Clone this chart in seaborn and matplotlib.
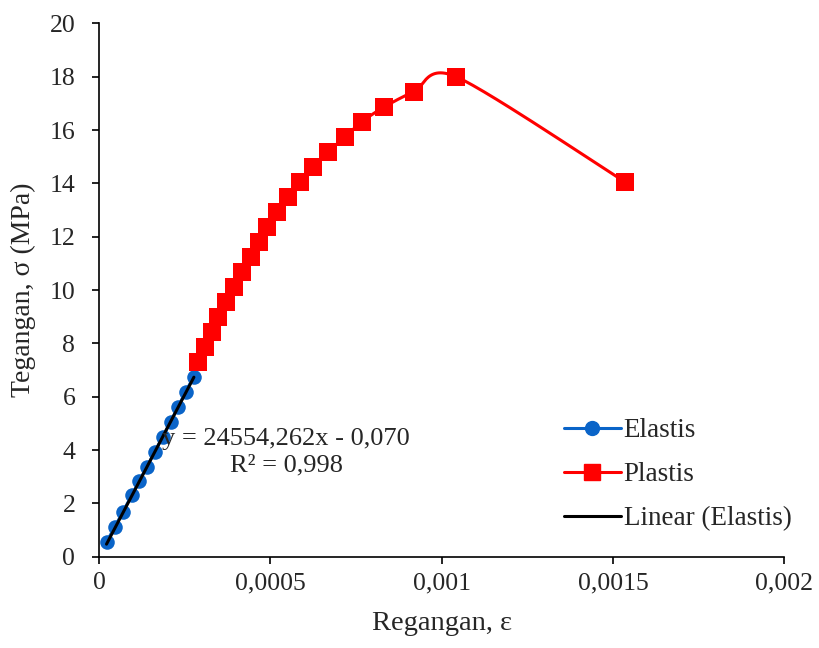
import numpy as np
import matplotlib
matplotlib.use('Agg')
import matplotlib.pyplot as plt
from matplotlib.lines import Line2D
from matplotlib.ticker import FuncFormatter, MultipleLocator
import seaborn as sns

# elastic region (strain, stress MPa)
elastis_x = [2.2e-5, 4.6e-5, 7.0e-5, 9.5e-5, 1.17e-4, 1.40e-4, 1.63e-4, 1.86e-4,
             2.09e-4, 2.31e-4, 2.53e-4, 2.77e-4]
elastis_y = [0.55, 1.11, 1.69, 2.30, 2.82, 3.37, 3.94, 4.50, 5.06, 5.62, 6.19, 6.75]

# plastic region
plastis_x = [2.90e-4, 3.09e-4, 3.31e-4, 3.48e-4, 3.70e-4, 3.94e-4, 4.17e-4, 4.43e-4,
             4.66e-4, 4.90e-4, 5.20e-4, 5.51e-4, 5.88e-4, 6.25e-4, 6.69e-4, 7.19e-4,
             7.67e-4, 8.33e-4, 9.20e-4, 1.042e-3, 1.535e-3]
plastis_y = [7.30, 7.87, 8.44, 9.00, 9.56, 10.12, 10.69, 11.25, 11.81, 12.37, 12.94,
             13.50, 14.06, 14.62, 15.19, 15.75, 16.31, 16.87, 17.44, 18.00, 14.05]

# trendline from Excel
slope = 24554.262
intercept = -0.070
r2 = 0.998

blue = '#0a64c8'
red = '#ff0000'


def smooth(xs, ys, n=30, k=7):
    # excel style smoothed line (catmull-rom type bezier)
    p = np.column_stack([xs, ys])
    p = np.vstack([p[0], p, p[-1]])
    out = []
    t = np.linspace(0, 1, n)[:, None]
    for i in range(1, len(p) - 2):
        p0, p1, p2, p3 = p[i - 1], p[i], p[i + 1], p[i + 2]
        c1 = p1 + (p2 - p0) / k
        c2 = p2 - (p3 - p1) / k
        seg = (1 - t) ** 3 * p1 + 3 * (1 - t) ** 2 * t * c1 + 3 * (1 - t) * t ** 2 * c2 + t ** 3 * p2
        out.append(seg)
    out = np.vstack(out)
    return out[:, 0], out[:, 1]


sns.set_style('ticks')
plt.rcParams['font.family'] = ['Liberation Serif', 'DejaVu Serif']

fig = plt.figure(figsize=(8.2, 6.48), dpi=100)
ax = fig.add_axes([0.1207, 0.1409, 0.8358, 0.8231])

ex, ey = smooth(elastis_x, elastis_y)
ax.plot(ex, ey, color=blue, lw=2.2, zorder=2)
sns.scatterplot(x=elastis_x, y=elastis_y, ax=ax, color=blue, marker='o', s=110,
                edgecolor=blue, linewidth=0, zorder=3)

px, py = smooth(plastis_x, plastis_y)
ax.plot(px, py, color=red, lw=2.2, zorder=4)
sns.scatterplot(x=plastis_x, y=plastis_y, ax=ax, color=red, marker='s', s=150,
                edgecolor=red, linewidth=0, zorder=5)

tx = np.array([min(elastis_x), max(elastis_x)])
ax.plot(tx, slope * tx + intercept, color='black', lw=2.2, zorder=6)

ax.set_xlim(0, 0.002)
ax.set_ylim(0, 20)
ax.xaxis.set_major_locator(MultipleLocator(0.0005))
ax.yaxis.set_major_locator(MultipleLocator(2))
ax.xaxis.set_major_formatter(FuncFormatter(lambda v, pos: f'{v:g}'.replace('.', ',')))
ax.tick_params(axis='both', labelsize=18.5, length=5, width=1.2, color='black', direction='out')
ax.tick_params(axis='x', pad=6)
ax.tick_params(axis='y', pad=12)
for s in ['left', 'bottom']:
    ax.spines[s].set_linewidth(1.2)
    ax.spines[s].set_color('black')
sns.despine(ax=ax)

ax.set_xlabel('Regangan, ε', fontsize=20.5, labelpad=12)
ax.set_ylabel('Tegangan, σ (MPa)', fontsize=20, labelpad=10)

ax.text(0.273, 0.196, f'y = {slope:.3f}x - {abs(intercept):.3f}'.replace('.', ',') +
        '\n' + f'R² = {r2:.3f}'.replace('.', ','),
        transform=ax.transAxes, ha='center', va='center', fontsize=19,
        multialignment='center', linespacing=1.26, zorder=7)

handles = [
    Line2D([], [], color=blue, lw=2.2, marker='o', markersize=10),
    Line2D([], [], color=red, lw=2.2, marker='s', markersize=11),
    Line2D([], [], color='black', lw=2.2),
]
ax.legend(handles, ['Elastis', 'Plastis', 'Linear (Elastis)'], loc='upper left',
          bbox_to_anchor=(0.643, 0.305), frameon=False, fontsize=19.5,
          handlelength=2.1, handletextpad=0.1, labelspacing=0.7)

fig.savefig('out.png', dpi=100)
